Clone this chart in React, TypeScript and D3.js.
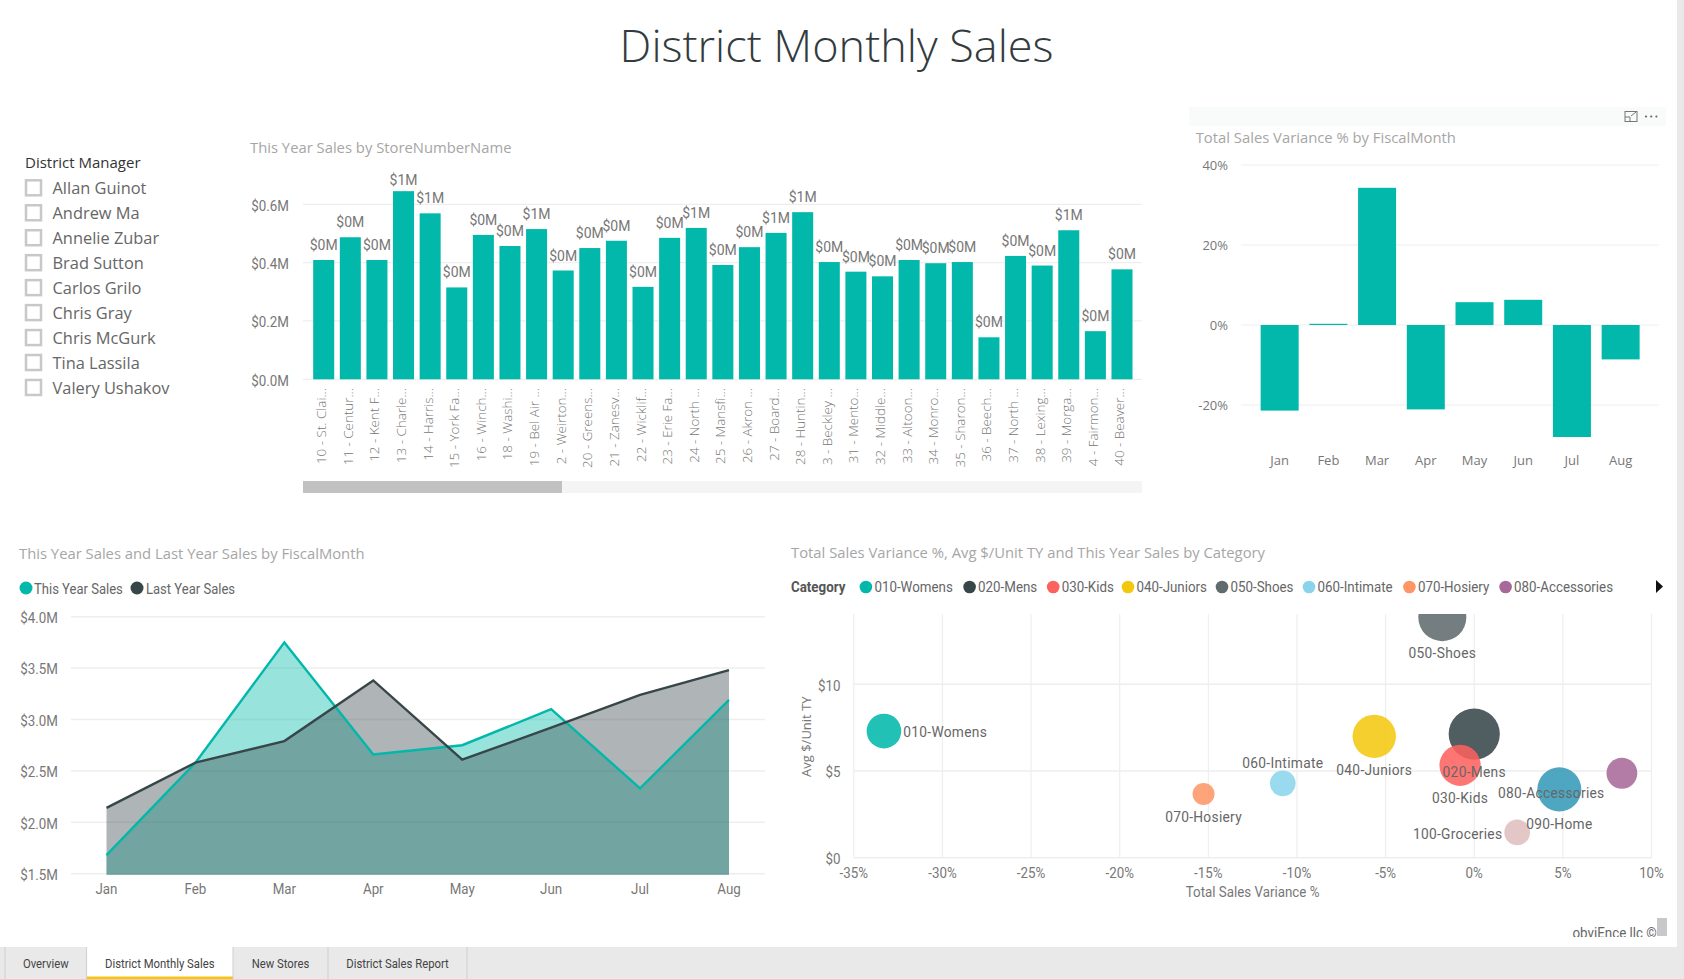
import React from "react";
import * as d3 from "d3";

const managers = ["Allan Guinot", "Andrew Ma", "Annelie Zubar", "Brad Sutton", "Carlos Grilo", "Chris Gray", "Chris McGurk", "Tina Lassila", "Valery Ushakov"];
const storeNames = ["10 - St. Clai...", "11 - Centur...", "12 - Kent F...", "13 - Charle...", "14 - Harris...", "15 - York Fa...", "16 - Winch...", "18 - Washi...", "19 - Bel Air ...", "2 - Weirton...", "20 - Greens...", "21 - Zanesv...", "22 - Wicklif...", "23 - Erie Fa...", "24 - North ...", "25 - Mansfi...", "26 - Akron ...", "27 - Board...", "28 - Huntin...", "3 - Beckley ...", "31 - Mento...", "32 - Middle...", "33 - Altoon...", "34 - Monro...", "35 - Sharon...", "36 - Beech...", "37 - North ...", "38 - Lexing...", "39 - Morga...", "4 - Fairmon...", "40 - Beaver..."];
const storeSales = [0.409, 0.487, 0.409, 0.645, 0.569, 0.315, 0.495, 0.457, 0.515, 0.373, 0.45, 0.475, 0.317, 0.485, 0.519, 0.392, 0.453, 0.502, 0.573, 0.402, 0.369, 0.353, 0.409, 0.398, 0.402, 0.144, 0.423, 0.39, 0.511, 0.165, 0.377];
const months = ["Jan", "Feb", "Mar", "Apr", "May", "Jun", "Jul", "Aug"];
const variancePct = [-21.4, 0.3, 34.3, -21.1, 5.7, 6.3, -28, -8.6];
const thisYear = [1.68, 2.58, 3.75, 2.66, 2.75, 3.1, 2.33, 3.19];
const lastYear = [2.14, 2.58, 2.79, 3.38, 2.61, 2.92, 3.24, 3.48];
const categories = ["010-Womens", "020-Mens", "030-Kids", "040-Juniors", "050-Shoes", "060-Intimate", "070-Hosiery", "080-Accessories", "090-Home", "100-Groceries"];
const catVariance = [-33.3, 0, -0.8, -5.64, -1.8, -10.8, -15.27, 8.33, 4.8, 2.42];
const catAvgUnit = [7.3, 7.13, 5.33, 7.0, 13.87, 4.29, 3.67, 4.87, 3.94, 1.46];
const catSales = [3.0, 6.55, 4.25, 4.7, 5.76, 1.65, 1.21, 2.37, 4.84, 1.65];
const tabs = ["Overview", "District Monthly Sales", "New Stores", "District Sales Report"];

const TEAL = "#01B8AA";
const DARK = "#374649";
const catColors = ["#01B8AA", "#374649", "#FD625E", "#F2C80F", "#5F6B6D", "#8AD4EB", "#FE9666", "#A66999", "#3599B8", "#DFBFBF"];
const labelSide = ["right", "below", "below", "below", "below", "above", "below", "left", "below", "left"];
const legendDots = [865.9, 969.6, 1053.2, 1128, 1222, 1309, 1409.4, 1505.6];

const SEGOE = "'Open Sans', 'Noto Sans', sans-serif";
const DIN = "'Roboto', sans-serif";
const GRID = "#eeeeee";
const AXIS = "#777777";
const TITLE = "#a6a6a6";

const T = (p: any) => <text dominantBaseline="central" {...p} />;

// narrow label: Roboto squeezed horizontally to the reference's condensed look
function D({ x, y, sq = 0.92, size = 14.5, fill = AXIS, ...rest }: any) {
  return (
    <text transform={`translate(${x},${y + 1}) scale(${sq},1)`} dominantBaseline="central" fontFamily={DIN} fontSize={size} fill={fill} {...rest} />
  );
}

function Title({ x, y, children }: any) {
  return <T x={x} y={y} fontFamily={SEGOE} fontSize={14.8} fill={TITLE}>{children}</T>;
}

export default function App() {
  const bx = d3.scaleBand<string>().domain(storeNames).range([310.4, 1135.3]).paddingInner(0.21).paddingOuter(0.105);
  const by = d3.scaleLinear().domain([0, 0.6]).range([379.3, 204.3]);
  const vx = d3.scaleBand<string>().domain(months).range([1255.3, 1645]).paddingInner(0.22).paddingOuter(0.11);
  const vy = d3.scaleLinear().domain([-20, 40]).range([405, 165]);
  const ax = d3.scalePoint<string>().domain(months).range([106.5, 729]);
  const ay = d3.scaleLinear().domain([1.5, 4]).range([873.7, 616.7]);
  const areaOf = d3.area<number>().x((_, i) => ax(months[i])!).y0(ay(1.49)).y1((d) => ay(d));
  const lineOf = d3.line<number>().x((_, i) => ax(months[i])!).y((d) => ay(d));
  const sx = d3.scaleLinear().domain([-35, 10]).range([853.8, 1651.5]);
  const sy = d3.scaleLinear().domain([0, 10]).range([857.7, 684.3]);
  const sr = d3.scaleSqrt().domain([0, 6.55]).range([0, 25.6]);
  const tabEdges = [5, 86.6, 233, 328, 467];

  return (
    <svg width={1684} height={979} style={{ position: "absolute", left: 0, top: 0, display: "block", background: "#fff" }}>
      <defs>
        <clipPath id="scatterClip"><rect x={840} y={614} width={830} height={260} /></clipPath>
        <clipPath id="footClip"><rect x={1560} y={920} width={100} height={17} /></clipPath>
      </defs>

      <T x={836.6} y={44} textAnchor="middle" fontFamily={SEGOE} fontWeight={300} fontSize={45} fill="#333b3e">District Monthly Sales</T>

      <T x={25} y={161.5} fontFamily={SEGOE} fontSize={15} fill="#333">District Manager</T>
      {managers.map((m, i) => {
        const y = 188.3 + i * 24.96;
        return (
          <g key={m}>
            <rect x={26} y={y - 8} width={15} height={15} fill="#fff" stroke="#c8c8c8" strokeWidth={2.5} />
            <T x={52.5} y={y - 0.7} fontFamily={SEGOE} fontSize={16.4} fill="#666">{m}</T>
          </g>
        );
      })}

      <Title x={250} y={147}>This Year Sales by StoreNumberName</Title>
      {[0, 0.2, 0.4, 0.6].map((t) => (
        <g key={t}>
          <line x1={303} x2={1142} y1={by(t)} y2={by(t)} stroke={GRID} strokeWidth={1.2} />
          <D x={289} y={by(t)} textAnchor="end">{`$${t.toFixed(1)}M`}</D>
        </g>
      ))}
      {storeNames.map((n, i) => {
        const x = bx(n)!;
        const c = x + bx.bandwidth() / 2;
        const v = storeSales[i];
        return (
          <g key={n}>
            <rect x={x} y={by(v)} width={bx.bandwidth()} height={by(0) - by(v)} fill={TEAL} />
            <D x={c} y={Math.max(by(v) - 16, 179)} sq={1} size={14} textAnchor="middle">{`$${Math.round(v)}M`}</D>
            <T transform={`translate(${c - 2.5},388) rotate(-90)`} textAnchor="end" fontFamily={SEGOE} fontWeight={300} fontSize={13.4} fill="#777">{n}</T>
          </g>
        );
      })}
      <rect x={303} y={481} width={839} height={12} fill="#f4f4f4" />
      <rect x={303} y={481} width={259} height={12} fill="#c1c1c1" />

      <rect x={1189} y={107} width={477} height={19} fill="#f9fafa" />
      <g fill="none" stroke="#777" strokeWidth={1}>
        <rect x={1625} y={111.5} width={12} height={10} />
        <path d="M1625 117h5v4.5M1631 116l5-4" />
      </g>
      {[0, 1, 2].map((i) => <circle key={i} cx={1646 + i * 5.2} cy={116.5} r={1.1} fill="#666" />)}
      <Title x={1195.7} y={136.7}>Total Sales Variance % by FiscalMonth</Title>
      {[-20, 0, 20, 40].map((t) => (
        <g key={t}>
          <line x1={1241} x2={1659} y1={vy(t)} y2={vy(t)} stroke={GRID} strokeWidth={1.2} />
          <T x={1228} y={vy(t)} textAnchor="end" fontFamily={SEGOE} fontSize={13} fill={AXIS}>{`${t}%`}</T>
        </g>
      ))}
      {months.map((m, i) => {
        const v = variancePct[i];
        return (
          <g key={m}>
            <rect x={vx(m)!} y={vy(Math.max(v, 0))} width={vx.bandwidth()} height={Math.abs(vy(v) - vy(0))} fill={TEAL} />
            <T x={vx(m)! + vx.bandwidth() / 2} y={460} textAnchor="middle" fontFamily={SEGOE} fontSize={13} fill={AXIS}>{m}</T>
          </g>
        );
      })}

      <Title x={19} y={553}>This Year Sales and Last Year Sales by FiscalMonth</Title>
      <circle cx={26} cy={588} r={6.5} fill={TEAL} />
      <D x={34} y={588} fill="#666" sq={0.9}>This Year Sales</D>
      <circle cx={137} cy={588} r={6.5} fill={DARK} />
      <D x={146} y={588} fill="#666" sq={0.9}>Last Year Sales</D>
      {[1.5, 2, 2.5, 3, 3.5, 4].map((t) => (
        <g key={t}>
          <line x1={71} x2={765} y1={ay(t)} y2={ay(t)} stroke={GRID} strokeWidth={1.5} />
          <D x={58} y={ay(t)} textAnchor="end">{`$${t.toFixed(1)}M`}</D>
        </g>
      ))}
      <path d={areaOf(thisYear)!} fill={TEAL} fillOpacity={0.4} />
      <path d={areaOf(lastYear)!} fill={DARK} fillOpacity={0.4} />
      <path d={lineOf(thisYear)!} fill="none" stroke={TEAL} strokeWidth={2.4} />
      <path d={lineOf(lastYear)!} fill="none" stroke={DARK} strokeWidth={2.4} />
      {months.map((m) => (
        <D key={m} x={ax(m)!} y={888} textAnchor="middle">{m}</D>
      ))}

      <Title x={791} y={551.7}>Total Sales Variance %, Avg $/Unit TY and This Year Sales by Category</Title>
      <D x={791} y={586} fontWeight={700} fill="#555">Category</D>
      {legendDots.map((x, i) => (
        <g key={categories[i]}>
          <circle cx={x} cy={587} r={6.3} fill={catColors[i]} />
          <D x={x + 8.5} y={586} fill="#666">{categories[i]}</D>
        </g>
      ))}
      <path d="M1656 580l7 6.5l-7 6.5z" fill="#111" />
      {d3.range(-35, 11, 5).map((t) => (
        <g key={t}>
          <line x1={sx(t)} x2={sx(t)} y1={614} y2={857.7} stroke={GRID} strokeWidth={1.2} />
          <D x={sx(t)} y={872} textAnchor="middle">{`${t}%`}</D>
        </g>
      ))}
      {[0, 5, 10].map((t) => (
        <g key={t}>
          <line x1={853.8} x2={1651.5} y1={sy(t)} y2={sy(t)} stroke={GRID} strokeWidth={1.5} />
          <D x={840.5} y={sy(t)} textAnchor="end">{`$${t}`}</D>
        </g>
      ))}
      <T transform="translate(806,736.7) rotate(-90)" textAnchor="middle" fontFamily={SEGOE} fontSize={13} fill={AXIS}>Avg $/Unit TY</T>
      <D x={1252.6} y={891} textAnchor="middle">Total Sales Variance %</D>
      <g clipPath="url(#scatterClip)">
        {categories.map((c, i) => (
          <circle key={c} cx={sx(catVariance[i])} cy={sy(catAvgUnit[i])} r={sr(catSales[i])} fill={catColors[i]} fillOpacity={0.87} />
        ))}
      </g>
      {categories.map((c, i) => {
        const cx = sx(catVariance[i]);
        const cy = sy(catAvgUnit[i]);
        const r = sr(catSales[i]);
        const side = labelSide[i];
        const props =
          side === "right" ? { x: cx + r + 2, y: cy, textAnchor: "start" } :
          side === "left" ? { x: cx - r - 2, y: i === 7 ? cy + 19 : cy, textAnchor: "end" } :
          side === "above" ? { x: cx, y: cy - r - 9, textAnchor: "middle" } :
          { x: cx, y: cy + r + 11, textAnchor: "middle" };
        return <D key={c} {...props} fill="#666" sq={0.95} letterSpacing={0.3}>{c}</D>;
      })}

      <g clipPath="url(#footClip)">
        <D x={1572.5} y={932} fill="#666">obviEnce llc ©</D>
      </g>
      <rect x={1657} y={918} width={10} height={18} fill="#c8c8c8" />
      <rect x={1677} y={0} width={7} height={947} fill="#e9e9e9" />
      <rect x={0} y={947} width={1684} height={32} fill="#e9e9e9" />
      <rect x={tabEdges[1]} y={947} width={tabEdges[2] - tabEdges[1]} height={32} fill="#fff" />
      <rect x={tabEdges[1]} y={976.5} width={tabEdges[2] - tabEdges[1]} height={2.5} fill="#F2C80F" />
      {tabEdges.map((x) => <line key={x} x1={x} x2={x} y1={947} y2={979} stroke="#cfcfcf" />)}
      {tabs.map((t, i) => (
        <D key={t} x={(tabEdges[i] + tabEdges[i + 1]) / 2} y={962.5} textAnchor="middle" size={13} sq={0.87} fill="#444">{t}</D>
      ))}
    </svg>
  );
}
